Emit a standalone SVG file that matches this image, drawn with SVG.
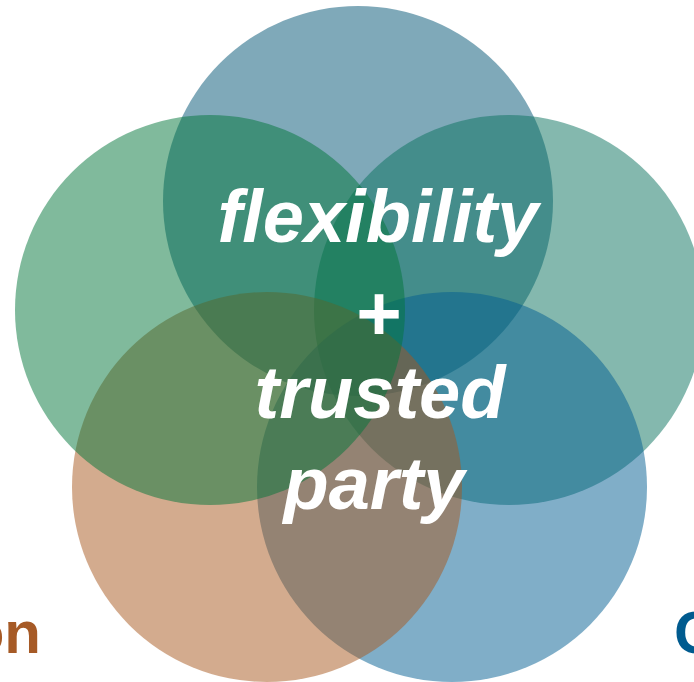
<svg xmlns="http://www.w3.org/2000/svg" width="694" height="682" viewBox="0 0 694 682">
<style>
.c{opacity:0.5}
.t{font-family:"Liberation Sans",Arial,sans-serif;font-weight:bold;font-style:italic;font-size:74px;fill:#ffffff;text-anchor:middle}
.s{font-family:"Liberation Sans",Arial,sans-serif;font-weight:bold;font-size:60px}
</style>
<rect width="694" height="682" fill="#ffffff"/>
<g id="circle-top"><circle class="c" cx="358" cy="201" r="195" fill="#005373"/></g>
<g id="circle-right"><circle class="c" cx="509" cy="310" r="195" fill="#09715D"/></g>
<g id="circle-bottom-right"><circle class="c" cx="452" cy="487" r="195" fill="#015D91"/></g>
<g id="circle-bottom-left"><circle class="c" cx="267" cy="487" r="195" fill="#A7571D"/></g>
<g id="circle-left"><circle class="c" cx="210" cy="310" r="195" fill="#017539"/></g>
<g id="center-text">
<text class="t" x="378" y="242">flexibility</text>
<text class="t" x="379" y="340" style="font-style:normal;font-size:78px">+</text>
<text class="t" x="380" y="418">trusted</text>
<text class="t" x="374" y="509">party</text>
</g>
<g id="side-labels">
<text class="s" x="41" y="653" fill="#A65A26" text-anchor="end">on</text>
<text class="s" x="674" y="653" fill="#005B8F">C</text>
</g>
<g id="connectors"></g>
</svg>
